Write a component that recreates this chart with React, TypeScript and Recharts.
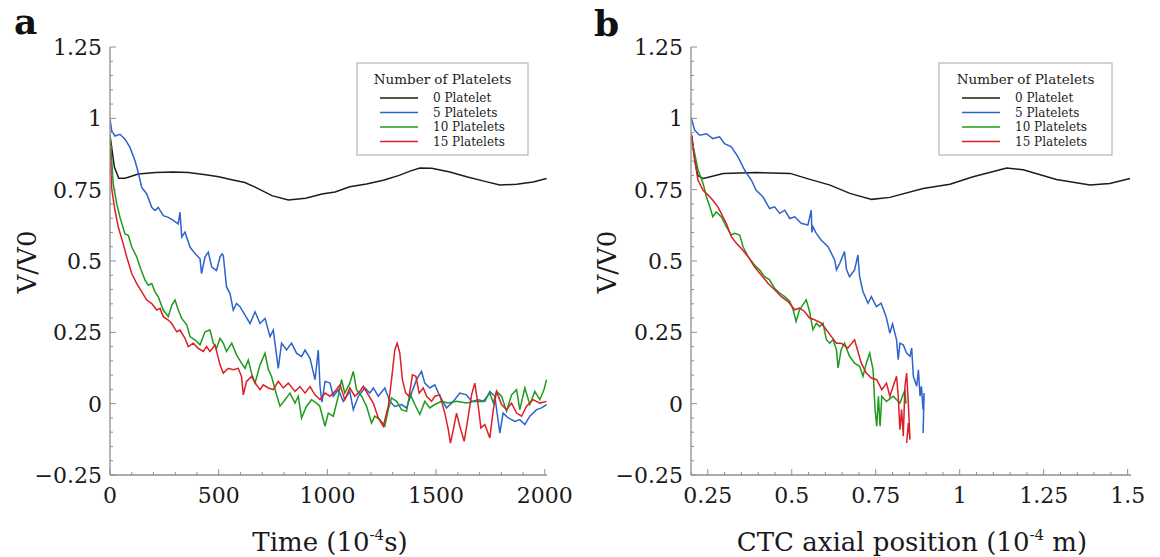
import React from 'react';
import { LineChart, Line, XAxis, YAxis } from 'recharts';

// ---------- Panel a : V/V0 vs time (10^-4 s) ----------
const timeBlackA = [0, 20, 40, 70, 130, 210, 290, 360, 440, 500, 560, 620, 670, 745, 820, 900, 975, 1035, 1103, 1180, 1257, 1330, 1380, 1425, 1480, 1563, 1640, 1720, 1793, 1870, 1946, 2008];
const ratioBlackA = [0.94, 0.83, 0.79, 0.79, 0.805, 0.81, 0.812, 0.81, 0.802, 0.795, 0.785, 0.775, 0.758, 0.729, 0.714, 0.72, 0.735, 0.742, 0.76, 0.77, 0.783, 0.8, 0.815, 0.826, 0.825, 0.812, 0.795, 0.78, 0.766, 0.769, 0.777, 0.789];

const timeBlueA = [0, 8, 23, 46, 69, 92, 115, 130, 146, 169, 192, 207, 222, 245, 268, 291, 314, 322, 330, 345, 368, 391, 414, 421, 437, 452, 468, 490, 506, 515, 521, 536, 552, 567, 582, 598, 621, 644, 667, 690, 713, 736, 751, 774, 789, 812, 835, 858, 881, 897, 920, 943, 958, 966, 975, 989, 1012, 1027, 1050, 1073, 1103, 1119, 1142, 1172, 1195, 1211, 1234, 1264, 1287, 1310, 1341, 1364, 1387, 1410, 1433, 1448, 1471, 1494, 1517, 1548, 1579, 1609, 1640, 1663, 1694, 1724, 1747, 1770, 1793, 1808, 1832, 1862, 1885, 1908, 1931, 1962, 1985, 2008];
const ratioBlueA = [0.997, 0.956, 0.938, 0.944, 0.927, 0.898, 0.851, 0.81, 0.758, 0.735, 0.688, 0.677, 0.688, 0.659, 0.653, 0.642, 0.63, 0.671, 0.584, 0.601, 0.549, 0.526, 0.508, 0.456, 0.514, 0.531, 0.479, 0.467, 0.514, 0.525, 0.52, 0.409, 0.386, 0.328, 0.351, 0.34, 0.31, 0.281, 0.322, 0.281, 0.299, 0.235, 0.258, 0.124, 0.212, 0.188, 0.212, 0.177, 0.165, 0.188, 0.159, 0.084, 0.188, 0.06, 0.005, 0.078, 0.072, 0.026, 0.049, 0.008, 0.043, -0.021, 0.026, 0.055, 0.037, 0.055, 0.026, 0.055, 0.008, -0.01, -0.003, -0.015, 0.037, 0.084, 0.113, 0.072, 0.055, 0.066, 0.026, -0.015, 0.008, 0.037, 0.031, 0.008, 0.014, 0.008, 0.043, 0.026, -0.103, -0.033, -0.05, -0.062, -0.056, -0.073, -0.044, -0.021, -0.015, -0.003];

const timeGreenA = [0, 15, 31, 46, 69, 84, 100, 123, 138, 161, 176, 192, 207, 222, 245, 268, 284, 299, 314, 330, 353, 368, 391, 414, 437, 460, 475, 490, 506, 521, 536, 560, 582, 605, 621, 636, 651, 667, 690, 713, 728, 743, 766, 782, 805, 828, 851, 866, 881, 904, 927, 950, 965, 989, 1004, 1027, 1050, 1065, 1080, 1103, 1119, 1134, 1157, 1180, 1203, 1218, 1241, 1264, 1280, 1295, 1318, 1341, 1364, 1379, 1402, 1425, 1448, 1471, 1494, 1525, 1556, 1594, 1640, 1678, 1716, 1747, 1763, 1778, 1801, 1824, 1847, 1870, 1885, 1908, 1931, 1954, 1977, 1996, 2008];
const ratioGreenA = [0.944, 0.77, 0.7, 0.653, 0.595, 0.59, 0.549, 0.514, 0.479, 0.433, 0.415, 0.421, 0.392, 0.374, 0.328, 0.305, 0.345, 0.363, 0.328, 0.299, 0.276, 0.235, 0.223, 0.206, 0.252, 0.258, 0.212, 0.194, 0.229, 0.212, 0.183, 0.212, 0.171, 0.142, 0.124, 0.153, 0.107, 0.072, 0.136, 0.177, 0.12, 0.095, 0.031, -0.009, 0.014, 0.037, 0.002, 0.026, -0.05, -0.009, 0.014, 0.002, -0.009, -0.079, -0.033, -0.044, 0.026, 0.084, 0.037, 0.072, 0.113, 0.049, 0.026, -0.009, -0.068, -0.044, -0.056, -0.079, -0.021, 0.02, 0.008, -0.021, -0.027, 0.037, -0.003, -0.038, 0.008, -0.015, -0.003, 0.008, 0.002, 0.008, 0.002, 0.008, 0.008, 0.037, 0.002, 0.043, 0.026, -0.027, 0.031, 0.049, -0.021, 0.055, -0.003, 0.043, 0.014, 0.049, 0.084];

const timeRedA = [0, 8, 23, 38, 61, 77, 100, 123, 146, 169, 192, 215, 230, 245, 268, 284, 307, 322, 345, 360, 383, 406, 429, 444, 460, 483, 506, 521, 544, 567, 590, 605, 613, 628, 651, 674, 690, 705, 728, 751, 774, 797, 820, 851, 874, 897, 920, 943, 966, 989, 1012, 1035, 1058, 1080, 1103, 1126, 1149, 1165, 1188, 1211, 1234, 1257, 1280, 1295, 1310, 1321, 1333, 1345, 1360, 1376, 1391, 1407, 1422, 1441, 1456, 1479, 1494, 1517, 1540, 1556, 1566, 1579, 1594, 1609, 1629, 1648, 1663, 1678, 1694, 1706, 1724, 1747, 1763, 1778, 1801, 1824, 1847, 1870, 1893, 1916, 1946, 1977, 2008];
const ratioRedA = [0.92, 0.752, 0.677, 0.619, 0.56, 0.514, 0.456, 0.421, 0.392, 0.363, 0.351, 0.328, 0.334, 0.305, 0.293, 0.281, 0.252, 0.258, 0.229, 0.2, 0.212, 0.194, 0.183, 0.2, 0.183, 0.206, 0.136, 0.107, 0.124, 0.119, 0.124, 0.095, 0.031, 0.078, 0.095, 0.066, 0.049, 0.066, 0.055, 0.049, 0.078, 0.055, 0.072, 0.043, 0.06, 0.037, 0.06, 0.031, 0.014, 0.037, 0.026, 0.043, 0.066, 0.014, 0.055, 0.026, 0.043, 0.061, 0.031, 0.002, -0.05, -0.079, -0.009, 0.084, 0.189, 0.212, 0.177, 0.084, 0.037, 0.026, 0.101, 0.096, 0.037, 0.055, 0.026, 0.008, 0.026, 0.031, -0.033, -0.091, -0.138, -0.091, -0.033, -0.079, -0.132, -0.044, 0.031, 0.072, -0.009, -0.085, -0.073, -0.12, -0.021, 0.043, -0.003, -0.021, 0.002, -0.033, -0.044, -0.009, 0.014, 0.002, 0.008];

// ---------- Panel b : V/V0 vs CTC axial position (10^-4 m) ----------
const posBlackB = [0.202, 0.212, 0.22, 0.237, 0.296, 0.395, 0.495, 0.554, 0.614, 0.673, 0.738, 0.792, 0.891, 0.971, 1.04, 1.14, 1.189, 1.288, 1.388, 1.447, 1.507];
const ratioBlackB = [0.94, 0.85, 0.8, 0.789, 0.807, 0.81, 0.807, 0.786, 0.766, 0.737, 0.716, 0.723, 0.754, 0.769, 0.795, 0.826, 0.82, 0.786, 0.766, 0.772, 0.789];

const posBlueB = [0.2, 0.211, 0.226, 0.246, 0.265, 0.285, 0.3, 0.32, 0.34, 0.36, 0.38, 0.394, 0.414, 0.434, 0.449, 0.464, 0.479, 0.494, 0.509, 0.528, 0.548, 0.558, 0.56, 0.563, 0.573, 0.588, 0.608, 0.628, 0.633, 0.643, 0.657, 0.663, 0.672, 0.687, 0.697, 0.702, 0.712, 0.727, 0.737, 0.752, 0.766, 0.781, 0.792, 0.8, 0.812, 0.817, 0.822, 0.832, 0.842, 0.852, 0.857, 0.862, 0.872, 0.877, 0.882, 0.886, 0.891, 0.894, 0.891];
const ratioBlueB = [1.005, 0.958, 0.941, 0.946, 0.929, 0.935, 0.911, 0.9, 0.865, 0.818, 0.783, 0.748, 0.725, 0.684, 0.69, 0.667, 0.678, 0.649, 0.655, 0.632, 0.626, 0.678, 0.6, 0.62, 0.597, 0.573, 0.55, 0.503, 0.469, 0.492, 0.533, 0.47, 0.445, 0.469, 0.521, 0.445, 0.393, 0.352, 0.375, 0.34, 0.352, 0.305, 0.247, 0.28, 0.224, 0.154, 0.212, 0.206, 0.177, 0.166, 0.195, 0.096, 0.061, 0.119, 0.026, 0.061, -0.021, 0.037, -0.103];

const posGreenB = [0.2, 0.211, 0.221, 0.236, 0.246, 0.256, 0.265, 0.275, 0.29, 0.305, 0.32, 0.33, 0.345, 0.355, 0.37, 0.389, 0.404, 0.419, 0.434, 0.449, 0.464, 0.479, 0.494, 0.504, 0.513, 0.523, 0.533, 0.543, 0.553, 0.563, 0.573, 0.583, 0.593, 0.603, 0.613, 0.623, 0.633, 0.638, 0.647, 0.657, 0.672, 0.687, 0.702, 0.712, 0.722, 0.732, 0.742, 0.748, 0.753, 0.758, 0.763, 0.768, 0.782, 0.802, 0.822, 0.837, 0.84];
const ratioGreenB = [0.94, 0.876, 0.818, 0.772, 0.725, 0.69, 0.655, 0.672, 0.655, 0.62, 0.591, 0.597, 0.591, 0.55, 0.515, 0.486, 0.469, 0.445, 0.434, 0.404, 0.387, 0.375, 0.358, 0.329, 0.288, 0.329, 0.346, 0.364, 0.323, 0.259, 0.282, 0.27, 0.282, 0.224, 0.212, 0.224, 0.189, 0.125, 0.189, 0.212, 0.166, 0.142, 0.131, 0.096, 0.142, 0.177, 0.119, -0.021, -0.079, 0.026, -0.079, 0.026, 0.008, 0.026, 0.002, 0.049, 0.0];

const posRedB = [0.2, 0.211, 0.221, 0.236, 0.251, 0.265, 0.28, 0.29, 0.305, 0.32, 0.335, 0.35, 0.37, 0.389, 0.409, 0.429, 0.449, 0.469, 0.489, 0.509, 0.523, 0.538, 0.553, 0.568, 0.588, 0.603, 0.618, 0.633, 0.647, 0.667, 0.687, 0.697, 0.707, 0.722, 0.737, 0.753, 0.768, 0.782, 0.792, 0.802, 0.812, 0.817, 0.822, 0.827, 0.832, 0.837, 0.842, 0.847, 0.852, 0.847, 0.842];
const ratioRedB = [0.946, 0.853, 0.783, 0.748, 0.731, 0.713, 0.69, 0.667, 0.632, 0.585, 0.562, 0.544, 0.515, 0.48, 0.451, 0.422, 0.399, 0.375, 0.358, 0.329, 0.335, 0.323, 0.3, 0.294, 0.282, 0.259, 0.235, 0.212, 0.212, 0.195, 0.224, 0.183, 0.142, 0.107, 0.09, 0.084, 0.049, 0.072, 0.026, 0.061, 0.096, 0.026, -0.091, -0.021, -0.114, 0.061, 0.107, 0.002, -0.126, -0.068, -0.138];

// ---------- Axes / labels ----------
const seriesNames = ['0 Platelet', '5 Platelets', '10 Platelets', '15 Platelets'];
const seriesColors = ['#1c1c1c', '#2e62cc', '#1f9a1f', '#dc1f26'];
const legendTitle = 'Number of Platelets';

const yTicks = [-0.25, -0.2, -0.15, -0.1, -0.05, 0, 0.05, 0.1, 0.15, 0.2, 0.25, 0.3, 0.35, 0.4, 0.45, 0.5, 0.55, 0.6, 0.65, 0.7, 0.75, 0.8, 0.85, 0.9, 0.95, 1, 1.05, 1.1, 1.15, 1.2, 1.25];
const yMajor = [-0.25, 0, 0.25, 0.5, 0.75, 1, 1.25];
const timeTicks = [0, 100, 200, 300, 400, 500, 600, 700, 800, 900, 1000, 1100, 1200, 1300, 1400, 1500, 1600, 1700, 1800, 1900, 2000];
const timeMajor = [0, 500, 1000, 1500, 2000];
const posTicks = [0.2, 0.25, 0.3, 0.35, 0.4, 0.45, 0.5, 0.55, 0.6, 0.65, 0.7, 0.75, 0.8, 0.85, 0.9, 0.95, 1, 1.05, 1.1, 1.15, 1.2, 1.25, 1.3, 1.35, 1.4, 1.45, 1.5];
const posMajor = [0.25, 0.5, 0.75, 1, 1.25, 1.5];

const FONT = "'DejaVu Serif', 'Liberation Serif', serif";
const AXIS = '#8f8f8f';

const inList = (v: number, list: number[]) => list.some((m) => Math.abs(m - v) < 1e-9);
const fmt = (v: number) => {
  const s = String(Math.round(v * 1000) / 1000);
  return s.startsWith('-') ? '\u2212' + s.slice(1) : s;
};
const build = (xs: number[], ys: number[]) => xs.map((x, i) => ({ x, v: ys[i] }));

type PanelCfg = {
  left: number;
  plot: { l: number; r: number; t: number; b: number };
  xDomain: [number, number];
  xTicks: number[];
  xMajor: number[];
  series: { x: number[]; y: number[] }[];
};

const panelA: PanelCfg = {
  left: 0,
  plot: { l: 110, r: 547, t: 47, b: 475 },
  xDomain: [0, 2010],
  xTicks: timeTicks,
  xMajor: timeMajor,
  series: [
    { x: timeBlackA, y: ratioBlackA },
    { x: timeBlueA, y: ratioBlueA },
    { x: timeGreenA, y: ratioGreenA },
    { x: timeRedA, y: ratioRedA },
  ],
};

const panelB: PanelCfg = {
  left: 580,
  plot: { l: 111, r: 551, t: 47, b: 475 },
  xDomain: [0.2, 1.51],
  xTicks: posTicks,
  xMajor: posMajor,
  series: [
    { x: posBlackB, y: ratioBlackB },
    { x: posBlueB, y: ratioBlueB },
    { x: posGreenB, y: ratioGreenB },
    { x: posRedB, y: ratioRedB },
  ],
};

const W = 580;
const H = 557;

function Panel({ cfg }: { cfg: PanelCfg }) {
  const { plot } = cfg;
  const leftTick = (p: any) => {
    const major = inList(p.payload.value, yMajor);
    return (
      <g>
        <line x1={p.x} y1={p.y} x2={p.x + (major ? 6 : 3)} y2={p.y} stroke={AXIS} strokeWidth={1} />
        {major && (
          <text x={p.x - 8} y={p.y} dy="0.36em" textAnchor="end" fontSize={22} fill="#1a1a1a" fontFamily={FONT}>
            {fmt(p.payload.value)}
          </text>
        )}
      </g>
    );
  };
  const rightTick = (p: any) => {
    const major = inList(p.payload.value, yMajor);
    return <line x1={p.x} y1={p.y} x2={p.x - (major ? 6 : 3)} y2={p.y} stroke={AXIS} strokeWidth={1} />;
  };
  const bottomTick = (p: any) => {
    const major = inList(p.payload.value, cfg.xMajor);
    return (
      <g>
        <line x1={p.x} y1={p.y} x2={p.x} y2={p.y - (major ? 6 : 3)} stroke={AXIS} strokeWidth={1} />
        {major && (
          <text x={p.x} y={p.y + 12} dy="0.72em" textAnchor="middle" fontSize={22} fill="#1a1a1a" fontFamily={FONT}>
            {fmt(p.payload.value)}
          </text>
        )}
      </g>
    );
  };
  const topTick = (p: any) => {
    const major = inList(p.payload.value, cfg.xMajor);
    return <line x1={p.x} y1={p.y} x2={p.x} y2={p.y + (major ? 6 : 3)} stroke={AXIS} strokeWidth={1} />;
  };
  const axisLine = { stroke: AXIS, strokeWidth: 1.3 };
  return (
    <div style={{ position: 'absolute', left: cfg.left, top: 0, width: W, height: H }}>
      <LineChart width={W} height={H} margin={{ top: plot.t, right: W - plot.r, bottom: 0, left: 0 }}>
        <XAxis
          xAxisId="bottom"
          dataKey="x"
          type="number"
          orientation="bottom"
          domain={cfg.xDomain}
          allowDataOverflow
          ticks={cfg.xTicks}
          interval={0}
          height={H - plot.b}
          tickSize={0}
          tickMargin={0}
          tickLine={false}
          axisLine={axisLine}
          tick={bottomTick}
        />
        <XAxis
          xAxisId="top"
          dataKey="x"
          type="number"
          orientation="top"
          domain={cfg.xDomain}
          allowDataOverflow
          ticks={cfg.xTicks}
          interval={0}
          height={0}
          tickSize={0}
          tickMargin={0}
          tickLine={false}
          axisLine={axisLine}
          tick={topTick}
        />
        <YAxis
          yAxisId="left"
          type="number"
          orientation="left"
          domain={[-0.25, 1.25]}
          allowDataOverflow
          ticks={yTicks}
          interval={0}
          width={plot.l}
          tickSize={0}
          tickMargin={0}
          tickLine={false}
          axisLine={axisLine}
          tick={leftTick}
        />
        <YAxis
          yAxisId="right"
          type="number"
          orientation="right"
          domain={[-0.25, 1.25]}
          allowDataOverflow
          ticks={yTicks}
          interval={0}
          width={0}
          tickSize={0}
          tickMargin={0}
          tickLine={false}
          axisLine={axisLine}
          tick={rightTick}
        />
        {cfg.series.map((s, i) => (
          <Line
            key={seriesNames[i]}
            name={seriesNames[i]}
            xAxisId="bottom"
            yAxisId="left"
            data={build(s.x, s.y)}
            dataKey="v"
            type="linear"
            stroke={seriesColors[i]}
            strokeWidth={1.5}
            dot={false}
            activeDot={false}
            isAnimationActive={false}
          />
        ))}
      </LineChart>
    </div>
  );
}

function LegendBox({ x, y, w, h }: { x: number; y: number; w: number; h: number }) {
  return (
    <g>
      <rect x={x} y={y} width={w} height={h} fill="#fff" stroke="#a8a8a8" strokeWidth={1} />
      <text x={x + w / 2} y={y + 21} textAnchor="middle" fontSize={13.5} fill="#222" fontFamily={FONT}>
        {legendTitle}
      </text>
      {seriesNames.map((n, i) => (
        <g key={n}>
          <line x1={x + 23} x2={x + 61} y1={y + 35 + i * 14.5} y2={y + 35 + i * 14.5} stroke={seriesColors[i]} strokeWidth={1.6} />
          <text x={x + 76} y={y + 35 + i * 14.5} dy="0.35em" fontSize={12} fill="#222" fontFamily={FONT}>
            {n}
          </text>
        </g>
      ))}
    </g>
  );
}

export default function App() {
  return (
    <div style={{ position: 'absolute', left: 0, top: 0, width: 1160, height: 557, background: '#fff', overflow: 'hidden' }}>
      <Panel cfg={panelA} />
      <Panel cfg={panelB} />
      <svg width={1160} height={557} style={{ position: 'absolute', left: 0, top: 0, pointerEvents: 'none' }}>
        <text x={14} y={34} fontSize={36} fontWeight="bold" fontFamily={FONT} fill="#111">a</text>
        <text x={594} y={36} fontSize={36} fontWeight="bold" fontFamily={FONT} fill="#111">b</text>
        <text transform="rotate(-90 27 262)" x={27} y={262} textAnchor="middle" dy="0.36em" fontSize={26} fontFamily={FONT} fill="#1a1a1a">V/V0</text>
        <text transform="rotate(-90 607 262)" x={607} y={262} textAnchor="middle" dy="0.36em" fontSize={26} fontFamily={FONT} fill="#1a1a1a">V/V0</text>
        <text x={330} y={551} textAnchor="middle" fontSize={26} fontFamily={FONT} fill="#1a1a1a">
          Time (10<tspan dy={-11} fontSize={15}>-4</tspan><tspan dy={11}>s)</tspan>
        </text>
        <text x={912} y={551} textAnchor="middle" fontSize={26} fontFamily={FONT} fill="#1a1a1a">
          CTC axial position (10<tspan dy={-11} fontSize={15}>-4</tspan><tspan dy={11}> m)</tspan>
        </text>
        <LegendBox x={357} y={63} w={171} h={92} />
        <LegendBox x={939} y={63} w={173} h={92} />
      </svg>
    </div>
  );
}
